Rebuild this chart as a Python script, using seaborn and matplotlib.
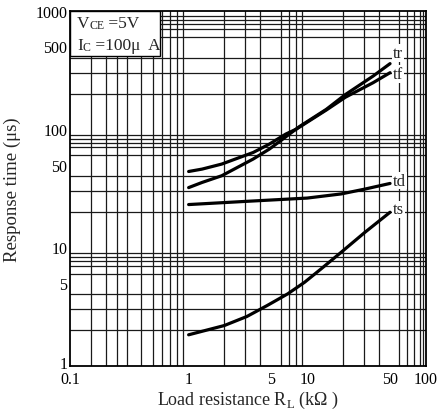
import pandas as pd
import matplotlib
matplotlib.use("Agg")
import matplotlib.pyplot as plt
import matplotlib.transforms as mtransforms
import seaborn as sns
from matplotlib.ticker import FixedLocator, NullFormatter
from matplotlib.patches import Rectangle

# Curves (R_L in kOhm, time in us)
rl_tr = [1, 1.3, 1.9, 3.5, 4.8, 6.6, 8.6, 14.5, 21, 36, 50]
t_tr = [32, 35.4, 40.3, 55.8, 67.8, 86, 105, 147, 196, 281, 358]

rl_tf = [1, 1.3, 1.9, 3.5, 4.8, 6.6, 8.1, 14.5, 21, 36, 50]
t_tf = [43.8, 45.9, 50.6, 63.4, 74.7, 90.8, 100, 145, 186, 247, 300]

rl_td = [1, 3.1, 10, 19.4, 30.7, 50]
t_td = [23, 24.5, 26.1, 28.3, 31.1, 34.7]

rl_ts = [1, 2, 3.1, 4.6, 6.85, 9.5, 13.1, 19.4, 30.7, 50]
t_ts = [1.82, 2.18, 2.6, 3.22, 4.04, 5.06, 6.57, 9.1, 13.4, 19.8]

curve_names = ["tr", "tf", "td", "ts"]
label_y = [441, 293, 36.6, 21]

# tick labels and grid positions
x_ticks = [0.1, 1, 5, 10, 50, 100]
x_tick_labels = ["0.1", "1", "5", "10", "50", "100"]
y_ticks = [1, 5, 10, 50, 100, 500, 1000]
y_tick_labels = ["1", "5", "10", "50", "100", "500", "1000"]
x_grid = [0.15, 0.2, 0.25, 0.3, 0.4, 0.5, 0.6, 0.7, 0.8, 0.9, 1,
          2, 3, 4, 5, 6, 7, 8, 9, 10,
          20, 30, 40, 50, 60, 70, 80, 90, 95]
y_steps = [2, 3, 4, 5, 6, 7, 7.7, 8.3, 9]
y_grid = [s * d for d in (1, 10, 100) for s in y_steps] + [10, 100]

df = pd.concat([
    pd.DataFrame({"rl": rl_tr, "t": t_tr, "curve": "tr"}),
    pd.DataFrame({"rl": rl_tf, "t": t_tf, "curve": "tf"}),
    pd.DataFrame({"rl": rl_td, "t": t_td, "curve": "td"}),
    pd.DataFrame({"rl": rl_ts, "t": t_ts, "curve": "ts"}),
])

sns.set_style("white")
plt.rcParams["font.family"] = ["Liberation Serif", "DejaVu Serif"]
plt.rcParams["mathtext.fontset"] = "custom"
plt.rcParams["mathtext.rm"] = "Liberation Serif"

fig = plt.figure(figsize=(4.38, 4.10), dpi=100)
ax = fig.add_axes([0.160, 0.106, 0.812, 0.865])

sns.lineplot(data=df, x="rl", y="t", hue="curve", units="curve", estimator=None,
             palette={c: "black" for c in curve_names}, linewidth=2.3,
             legend=False, sort=True, ax=ax, zorder=3)

ax.set_xscale("log")
ax.set_yscale("log")
ax.set_xlim(0.1, 100)
ax.set_ylim(1, 1000)

ax.xaxis.set_major_locator(FixedLocator(x_ticks))
ax.set_xticklabels(x_tick_labels)
ax.yaxis.set_major_locator(FixedLocator(y_ticks))
ax.set_yticklabels(y_tick_labels)
ax.xaxis.set_minor_locator(FixedLocator(x_grid))
ax.yaxis.set_minor_locator(FixedLocator(y_grid))
ax.xaxis.set_minor_formatter(NullFormatter())
ax.yaxis.set_minor_formatter(NullFormatter())
ax.tick_params(which="both", length=0, labelsize=11.5, colors="black")
ax.tick_params(axis="x", pad=4)
ax.tick_params(axis="y", pad=2)

# lift the bottom "1" a little so it sits above "0.1" as in the original
lbl = ax.get_yticklabels()[0]
lbl.set_transform(lbl.get_transform() + mtransforms.ScaledTranslation(0, 4 / 100, fig.dpi_scale_trans))

ax.grid(False)
ax.grid(which="minor", color="0.1", linewidth=0.9)
ax.set_axisbelow(True)
for sp in ax.spines.values():
    sp.set_color("black")
    sp.set_linewidth(1.3)

# condition box in the upper-left corner
ax.add_patch(Rectangle((0, 0.872), 0.253, 0.128, transform=ax.transAxes,
                       facecolor="white", edgecolor="black", linewidth=1.0, zorder=2))
v1 = ax.text(0.019, 0.954, "V", transform=ax.transAxes, fontsize=12.5,
             va="baseline", zorder=4)
v2 = ax.annotate("CE", xy=(1, 0), xycoords=v1, fontsize=8.5, va="bottom", zorder=4)
ax.annotate(" =5V", xy=(1, 0), xycoords=v2, fontsize=12.5, va="bottom", zorder=4)
i1 = ax.text(0.019, 0.893, "I", transform=ax.transAxes, fontsize=12.5,
             va="baseline", zorder=4)
i2 = ax.annotate("C", xy=(1, 0), xycoords=i1, fontsize=8.5, va="bottom", zorder=4)
ax.annotate(" =100\u03bc  A", xy=(1, 0), xycoords=i2, fontsize=12.5, va="bottom", zorder=4)

# curve names at the right-hand ends
for name, yv in zip(curve_names, label_y):
    ax.text(53, yv, name, fontsize=12, va="center", ha="left", zorder=4,
            bbox=dict(facecolor="white", edgecolor="none", pad=0.5))

ax.set_xlabel("Load resistance R$_\\mathregular{L}$ (k\u03a9 )", fontsize=13, labelpad=1)
ax.set_ylabel("Response time (\u03bcs)", fontsize=13.5, labelpad=10)

fig.savefig("out.png", dpi=100)
